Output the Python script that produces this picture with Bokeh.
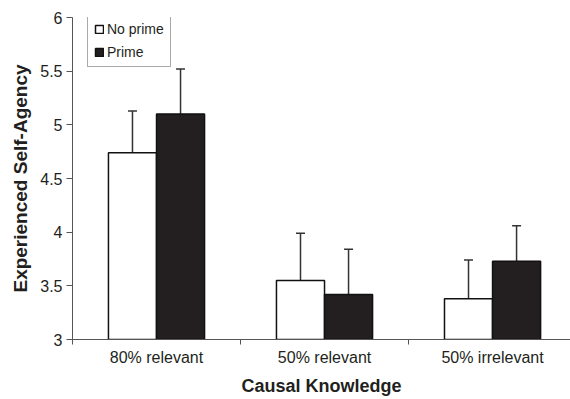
from bokeh.plotting import figure
from bokeh.models import (Range1d, FixedTicker, NumeralTickFormatter, Whisker, TeeHead,
                          ColumnDataSource, Legend, LegendItem)
from bokeh.embed import file_html
from bokeh.resources import INLINE

categories = ["80% relevant", "50% relevant", "50% irrelevant"]
no_prime = [4.74, 3.55, 3.38]
no_prime_se = [0.39, 0.44, 0.36]
prime = [5.10, 3.42, 3.73]
prime_se = [0.42, 0.42, 0.33]
y_ticks = [3, 3.5, 4, 4.5, 5, 5.5, 6]

FONT = "Liberation Sans"
TXT = "#231f20"
bar_w = 0.286
centers = [i + 0.5 for i in range(len(categories))]
x_np = [c - bar_w / 2 for c in centers]
x_p = [c + bar_w / 2 for c in centers]

src_np = ColumnDataSource(dict(x=x_np, top=no_prime,
                               upper=[v + e for v, e in zip(no_prime, no_prime_se)]))
src_p = ColumnDataSource(dict(x=x_p, top=prime,
                              upper=[v + e for v, e in zip(prime, prime_se)]))

p = figure(width=570, height=399, output_backend="svg", toolbar_location=None,
           x_range=Range1d(0, 2.964), y_range=Range1d(3, 6),
           min_border_left=72, min_border_top=17, min_border_bottom=60, min_border_right=0)
p.outline_line_color = None
p.xgrid.visible = False
p.ygrid.visible = False

r_np = p.vbar(x="x", top="top", bottom=3, width=bar_w, source=src_np,
              fill_color="white", line_color="#111111", line_width=1.5)
r_p = p.vbar(x="x", top="top", bottom=3, width=bar_w, source=src_p,
             fill_color="#231f20", line_color="#111111", line_width=1.5)

for src in (src_np, src_p):
    w = Whisker(base="x", lower="top", upper="upper", source=src,
                line_color="#333333", line_width=1.5,
                upper_head=TeeHead(size=9, line_color="#333333", line_width=1.5),
                lower_head=None)
    p.add_layout(w)

# x axis
p.xaxis.ticker = FixedTicker(ticks=centers, minor_ticks=[0, 1, 2, 3])
p.xaxis.major_label_overrides = {c: lab for c, lab in zip(centers, categories)}
p.xaxis.major_tick_line_color = None
p.xaxis.minor_tick_in = 0
p.xaxis.minor_tick_out = 5
p.xaxis.minor_tick_line_color = "#555555"
p.xaxis.axis_line_color = "#555555"
p.xaxis.major_label_text_font = FONT
p.xaxis.major_label_text_font_size = "16px"
p.xaxis.major_label_text_color = TXT
p.xaxis.major_label_standoff = 3
p.xaxis.axis_label = "Causal Knowledge"
p.xaxis.axis_label_text_font = FONT
p.xaxis.axis_label_text_font_size = "18px"
p.xaxis.axis_label_text_font_style = "bold"
p.xaxis.axis_label_text_color = TXT
p.xaxis.axis_label_standoff = 7

# y axis
p.yaxis.ticker = FixedTicker(ticks=y_ticks)
p.yaxis.formatter = NumeralTickFormatter(format="0.[0]")
p.yaxis.minor_tick_line_color = None
p.yaxis.major_tick_in = 0
p.yaxis.major_tick_out = 6
p.yaxis.major_tick_line_color = "#555555"
p.yaxis.axis_line_color = "#555555"
p.yaxis.major_label_text_font = FONT
p.yaxis.major_label_text_font_size = "16px"
p.yaxis.major_label_text_color = TXT
p.yaxis.major_label_standoff = 4
p.yaxis.axis_label = "Experienced Self-Agency"
p.yaxis.axis_label_text_font = FONT
p.yaxis.axis_label_text_font_size = "19px"
p.yaxis.axis_label_text_font_style = "bold"
p.yaxis.axis_label_text_color = TXT
p.yaxis.axis_label_standoff = 6

legend = Legend(items=[LegendItem(label="No prime", renderers=[r_np]),
                       LegendItem(label="Prime", renderers=[r_p])],
                location=(15, 272), orientation="vertical",
                glyph_width=10, glyph_height=10, label_height=17, label_standoff=3,
                spacing=6, padding=6, margin=0,
                label_text_font=FONT, label_text_font_size="14px", label_text_color=TXT,
                border_line_color="#555555", border_line_width=1,
                background_fill_color="white", background_fill_alpha=1)
p.add_layout(legend, "center")

open("out.html", "w").write(file_html(p, INLINE))
